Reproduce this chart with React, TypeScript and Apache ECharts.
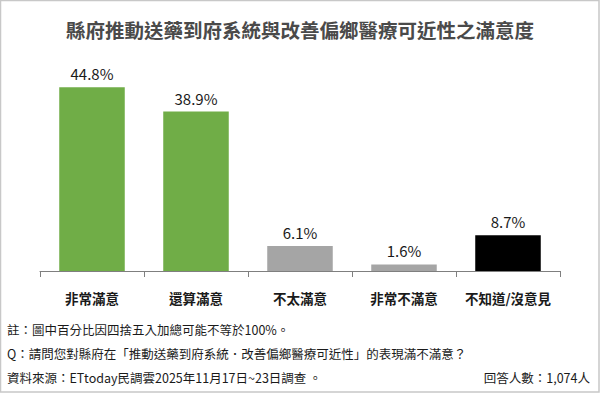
import React, { useEffect, useRef } from "react";
import * as echarts from "echarts";

const titleText = "縣府推動送藥到府系統與改善偏鄉醫療可近性之滿意度";
const categories = ["非常滿意", "還算滿意", "不太滿意", "非常不滿意", "不知道/沒意見"];
const values = [44.8, 38.9, 6.1, 1.6, 8.7];
const barColors = ["#70AD47", "#70AD47", "#A5A5A5", "#A5A5A5", "#000000"];
const noteLine = "註：圖中百分比因四捨五入加總可能不等於100%。";
const questionLine = "Q：請問您對縣府在「推動送藥到府系統．改善偏鄉醫療可近性」的表現滿不滿意？";
const sourceLine = "資料來源：ETtoday民調雲2025年11月17日~23日調查 。";
const sampleLine = "回答人數：1,074人";

const FONT = "'Noto Sans CJK TC', 'Noto Sans', sans-serif";

export default function App() {
  const ref = useRef<HTMLDivElement>(null);
  useEffect(() => {
    document.body.style.margin = "0";
    const chart = echarts.init(ref.current!, undefined, { renderer: "svg" });
    chart.setOption({
      animation: false,
      backgroundColor: "#ffffff",
      title: {
        text: titleText,
        left: "center",
        top: 15,
        textStyle: { fontFamily: FONT, fontSize: 19.5, fontWeight: "bold", color: "#4a4a4a" },
      },
      grid: { left: 40, right: 40, top: 66, bottom: 122 },
      xAxis: {
        type: "category",
        data: categories,
        axisLine: { lineStyle: { color: "#7f7f7f", width: 1 } },
        axisTick: { show: true, length: 6, lineStyle: { color: "#7f7f7f" } },
        axisLabel: {
          interval: 0,
          margin: 20,
          fontFamily: FONT,
          fontSize: 13.5,
          fontWeight: "bold",
          color: "#1a1a1a",
        },
      },
      yAxis: {
        type: "value",
        min: 0,
        max: 50,
        show: false,
        splitLine: { show: false },
      },
      series: [
        {
          type: "bar",
          barWidth: "63%",
          data: values.map((v, i) => ({ value: v, itemStyle: { color: barColors[i] } })),
          label: {
            show: true,
            position: "top",
            distance: 6,
            formatter: (p: any) => p.value.toFixed(1) + "%",
            fontFamily: FONT,
            fontSize: 15,
            fontWeight: "normal",
            color: "#1a1a1a",
          },
        },
      ],
      graphic: [
        {
          type: "rect",
          shape: { x: 0.5, y: 0.5, width: 598.5, height: 391.5 },
          style: { fill: "none", stroke: "#c8c8c8", lineWidth: 1.5 },
          silent: true,
        },
        {
          type: "text",
          left: 7,
          top: 323,
          style: { text: noteLine, font: `12.5px ${FONT}`, fill: "#1a1a1a" },
        },
        {
          type: "text",
          left: 7,
          top: 347,
          style: { text: questionLine, font: `12.5px ${FONT}`, fill: "#1a1a1a" },
        },
        {
          type: "text",
          left: 7,
          top: 371,
          style: { text: sourceLine, font: `12.5px ${FONT}`, fill: "#1a1a1a" },
        },
        {
          type: "text",
          right: 10,
          top: 371,
          style: { text: sampleLine, font: `12.5px ${FONT}`, fill: "#1a1a1a" },
        },
      ],
    });
    return () => chart.dispose();
  }, []);
  return <div ref={ref} style={{ width: 600, height: 393 }} />;
}
